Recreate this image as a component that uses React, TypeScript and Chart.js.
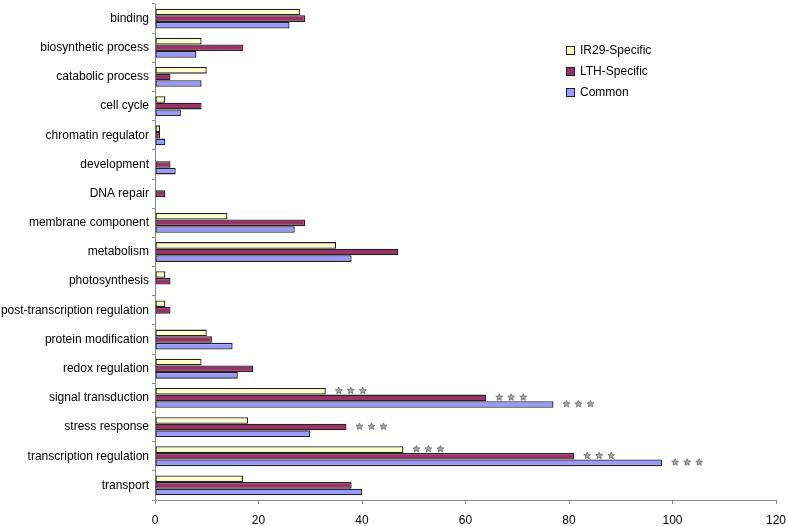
import React, { useEffect, useRef } from "react";
import { Chart, registerables } from "chart.js";

Chart.register(...registerables);

const categories = [
  "binding",
  "biosynthetic process",
  "catabolic process",
  "cell cycle",
  "chromatin regulator",
  "development",
  "DNA repair",
  "membrane component",
  "metabolism",
  "photosynthesis",
  "post-transcription regulation",
  "protein modification",
  "redox regulation",
  "signal transduction",
  "stress response",
  "transcription regulation",
  "transport",
];

const ir29Values = [28, 9, 10, 2, 1, 0, 0, 14, 35, 2, 2, 10, 9, 33, 18, 48, 17];
const lthValues = [29, 17, 3, 9, 1, 3, 2, 29, 47, 3, 3, 11, 19, 64, 37, 81, 38];
const commonValues = [26, 8, 9, 5, 2, 4, 0, 27, 38, 0, 0, 15, 16, 77, 30, 98, 40];

const seriesNames = ["IR29-Specific", "LTH-Specific", "Common"];
const seriesColors = ["#FFFFCC", "#993366", "#9999FF"];

const ir29Stars = ["signal transduction", "transcription regulation"];
const lthStars = ["signal transduction", "stress response", "transcription regulation"];
const commonStars = ["signal transduction", "transcription regulation"];

const xMin = 0;
const xMax = 120;
const xStep = 20;

function drawStar(ctx: CanvasRenderingContext2D, cx: number, cy: number, r: number) {
  const inner = r * 0.45;
  ctx.beginPath();
  for (let i = 0; i < 10; i++) {
    const rad = i % 2 === 0 ? r : inner;
    const a = -Math.PI / 2 + (i * Math.PI) / 5;
    const px = cx + rad * Math.cos(a);
    const py = cy + rad * Math.sin(a);
    if (i === 0) ctx.moveTo(px, py);
    else ctx.lineTo(px, py);
  }
  ctx.closePath();
  ctx.fill();
  ctx.stroke();
}

const starPlugin = {
  id: "stars",
  afterDatasetsDraw(chart: any) {
    const ctx = chart.ctx;
    const starLists = [ir29Stars, lthStars, commonStars];
    ctx.save();
    ctx.fillStyle = "#aaa";
    ctx.strokeStyle = "#666";
    ctx.lineWidth = 0.8;
    starLists.forEach((list, di) => {
      const meta = chart.getDatasetMeta(di);
      list.forEach((cat) => {
        const idx = categories.indexOf(cat);
        if (idx < 0) return;
        const el = meta.data[idx];
        const x0 = el.x + 13;
        for (let k = 0; k < 3; k++) {
          drawStar(ctx, x0 + k * 12, el.y - 0.5, 3.6);
        }
      });
    });
    ctx.restore();
  },
};

export default function App() {
  const canvasRef = useRef<HTMLCanvasElement | null>(null);

  useEffect(() => {
    document.body.style.margin = "0";
    const canvas = canvasRef.current;
    if (!canvas) return;
    const datasets = [ir29Values, lthValues, commonValues].map((vals, i) => ({
      label: seriesNames[i],
      data: vals,
      backgroundColor: seriesColors[i],
      borderColor: "#222",
      borderWidth: 1.3,
      borderSkipped: false,
      categoryPercentage: 0.68,
      barPercentage: 1.0,
    }));
    const chart = new Chart(canvas, {
      type: "bar",
      data: { labels: categories, datasets },
      options: {
        indexAxis: "y",
        animation: false,
        responsive: false,
        maintainAspectRatio: false,
        layout: { padding: { top: 4, right: 12, left: 0, bottom: 0 } },
        plugins: {
          legend: { display: false },
          tooltip: { enabled: false },
        },
        scales: {
          x: {
            min: xMin,
            max: xMax,
            ticks: {
              stepSize: xStep,
              color: "#000",
              font: { family: "'Liberation Sans', Arial, sans-serif", size: 12 },
              padding: 9,
            },
            grid: {
              display: true,
              drawOnChartArea: false,
              drawTicks: true,
              tickLength: 4,
              color: "#888",
            },
            border: { display: true, color: "#888" },
            afterFit(scale: any) {
              scale.height = 26;
              scale.paddingLeft = 0;
              scale.paddingRight = 0;
            },
          },
          y: {
            ticks: {
              color: "#000",
              font: { family: "'Liberation Sans', Arial, sans-serif", size: 12 },
              padding: 3,
              autoSkip: false,
            },
            grid: {
              display: true,
              drawOnChartArea: false,
              drawTicks: true,
              tickLength: 3,
              color: "#888",
              offset: true,
            },
            border: { display: true, color: "#888" },
            afterFit(scale: any) {
              scale.width = 155;
              scale.paddingTop = 0;
              scale.paddingBottom = 0;
            },
          },
        },
      },
      plugins: [starPlugin],
    });
    return () => chart.destroy();
  }, []);

  return (
    <div style={{ position: "relative", width: 788, height: 526, background: "#fff" }}>
      <canvas ref={canvasRef} width={788} height={526} style={{ display: "block" }} />
      <div
        style={{
          position: "absolute",
          left: 566,
          top: 40,
          fontFamily: "'Liberation Sans', Arial, sans-serif",
          fontSize: 12,
          color: "#000",
          lineHeight: "21px",
        }}
      >
        {seriesNames.map((n, i) => (
          <div key={n} style={{ display: "flex", alignItems: "center" }}>
            <span
              style={{
                display: "inline-block",
                width: 7,
                height: 7,
                background: seriesColors[i],
                border: "1px solid #222",
                marginRight: 5,
              }}
            />
            {n}
          </div>
        ))}
      </div>
    </div>
  );
}
